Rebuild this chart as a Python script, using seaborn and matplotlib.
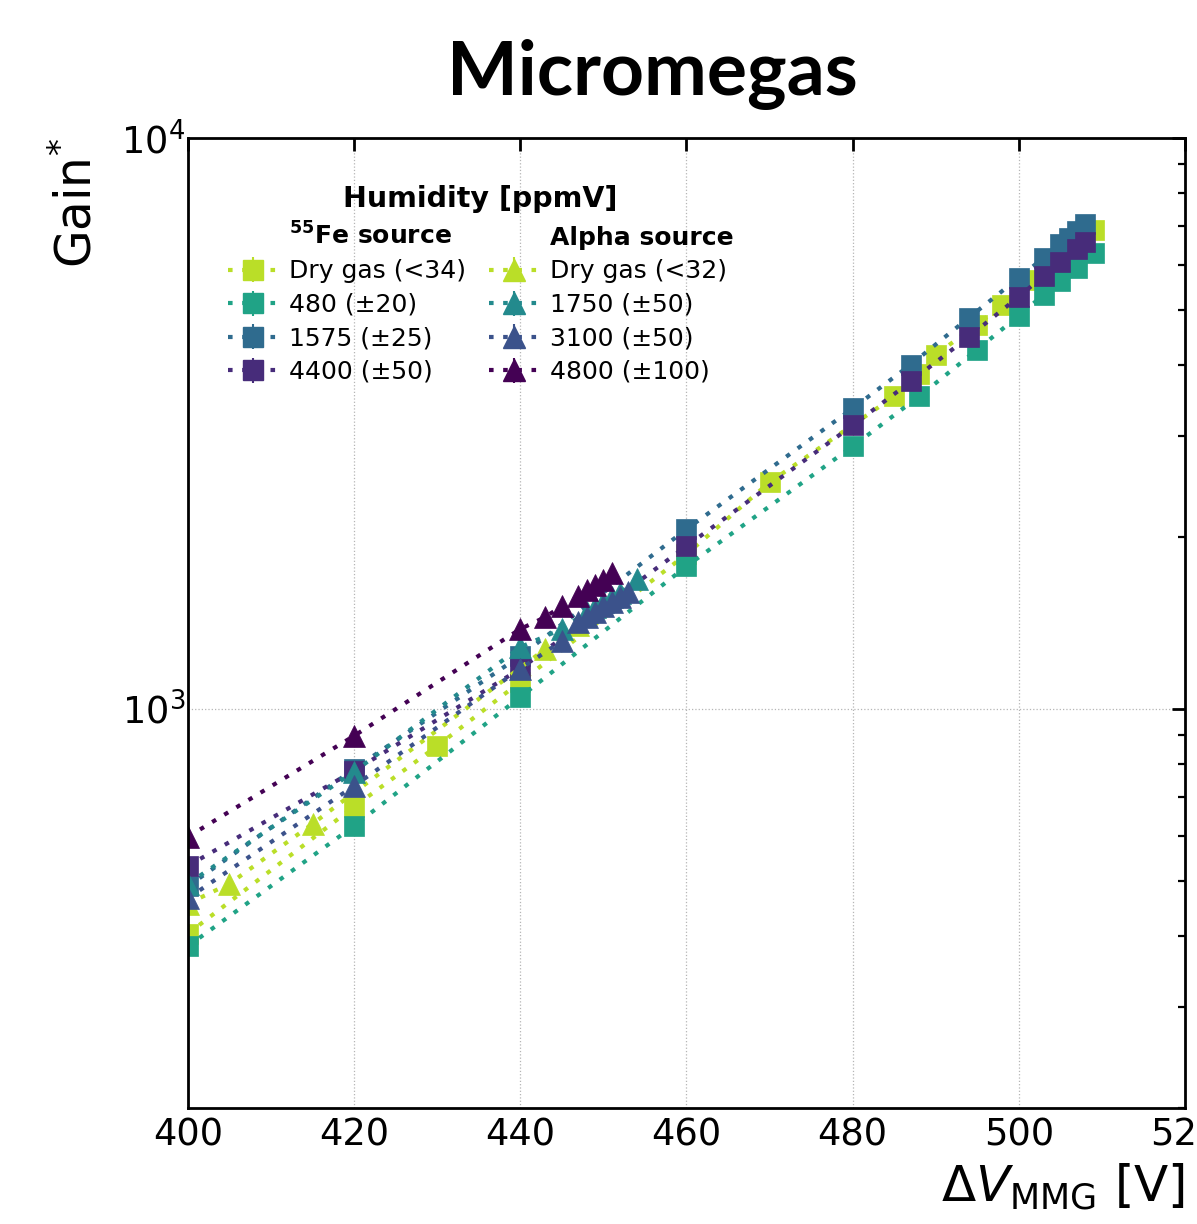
import numpy as np
import pandas as pd
import matplotlib
matplotlib.use("Agg")
import matplotlib.pyplot as plt
from matplotlib.lines import Line2D
from matplotlib.ticker import FixedLocator, LogLocator, NullFormatter
import seaborn as sns

# ---- data: mesh voltage [V] vs. effective gain --------------------------
# 55Fe source
fe_dry_v = [400, 420, 430, 440, 460, 470, 485, 488, 490, 495, 498, 501, 509]
fe_dry_g = [404, 674, 861, 1115, 1866, 2494, 3526, 3852, 4174, 4711, 5106, 5646, 6906]
fe_480_v = [400, 420, 440, 460, 480, 488, 495, 500, 503, 505, 507, 509]
fe_480_g = [384, 624, 1049, 1778, 2883, 3526, 4260, 4885, 5315, 5623, 5925, 6295]
fe_1575_v = [400, 420, 440, 460, 480, 487, 494, 500, 503, 505, 506, 507, 508]
fe_1575_g = [489, 785, 1238, 2064, 3359, 4010, 4845, 5691, 6170, 6526, 6689, 6878, 7075]
fe_4400_v = [400, 420, 440, 460, 480, 487, 494, 500, 503, 505, 507, 508]
fe_4400_g = [531, 779, 1175, 1928, 3137, 3745, 4488, 5272, 5738, 6071, 6396, 6580]

# Alpha source
al_dry_v = [400, 405, 415, 443, 447]
al_dry_g = [456, 494, 629, 1273, 1400]
al_1750_v = [400, 420, 440, 445, 448, 449, 450, 451, 452, 454]
al_1750_g = [494, 776, 1283, 1380, 1478, 1508, 1539, 1570, 1595, 1688]
al_3100_v = [400, 420, 440, 445, 447, 448, 449, 450, 451, 452, 453]
al_3100_g = [466, 733, 1175, 1315, 1419, 1448, 1478, 1514, 1539, 1570, 1602]
al_4800_v = [400, 420, 440, 443, 445, 447, 448, 449, 450, 451]
al_4800_g = [597, 897, 1380, 1448, 1514, 1576, 1614, 1647, 1681, 1729]

fe_labels = ["Dry gas (<34)", "480 (\u00b120)", "1575 (\u00b125)", "4400 (\u00b150)"]
al_labels = ["Dry gas (<32)", "1750 (\u00b150)", "3100 (\u00b150)", "4800 (\u00b1100)"]

fe_colors = ["#bade28", "#20a386", "#2f6b8e", "#472c7a"]
al_colors = ["#bade28", "#238a8d", "#3b528b", "#440154"]

x_ticks = [400, 420, 440, 460, 480, 500, 520]

# ---- style --------------------------------------------------------------
sns.set_theme(style="white")
plt.rcParams.update({
    "font.family": ["DejaVu Sans"],
    "mathtext.fontset": "dejavusans",
    "axes.linewidth": 2.0,
    "axes.edgecolor": "black",
    "axes.labelcolor": "black",
    "text.color": "black",
    "xtick.color": "black",
    "ytick.color": "black",
})

DOTS = (0, (1.1, 2.3))
LW = 3.0
SQ_MS = 14.5
TR_MS = 15.5

fig = plt.figure(figsize=(11.97, 12.24), dpi=100)
ax = fig.add_axes([0.157, 0.0948, 0.833, 0.7925])

fe_series = [(fe_dry_v, fe_dry_g), (fe_480_v, fe_480_g),
             (fe_1575_v, fe_1575_g), (fe_4400_v, fe_4400_g)]
al_series = [(al_dry_v, al_dry_g), (al_1750_v, al_1750_g),
             (al_3100_v, al_3100_g), (al_4800_v, al_4800_g)]

def draw(series, colors, marker, ms):
    for (xv, yv), c in zip(series, colors):
        df = pd.DataFrame({"dv": xv, "gain": yv})
        sns.lineplot(data=df, x="dv", y="gain", ax=ax, color=c, marker=marker,
                     markersize=ms, markeredgecolor=c, markeredgewidth=0.5,
                     linestyle=DOTS, linewidth=LW, errorbar=None, legend=False,
                     sort=True)

draw(fe_series, fe_colors, "s", SQ_MS)
draw(al_series, al_colors, "^", TR_MS)

ax.set_yscale("log")
ax.set_xlim(400, 520)
ax.set_ylim(200, 10000)

ax.xaxis.set_major_locator(FixedLocator(x_ticks))
ax.yaxis.set_major_locator(LogLocator(base=10))
ax.yaxis.set_minor_locator(LogLocator(base=10, subs=np.arange(2, 10)))
ax.yaxis.set_minor_formatter(NullFormatter())

ax.tick_params(which="both", direction="in", top=True, right=True)
ax.tick_params(which="major", length=9.5, width=2.0, labelsize=26.5)
ax.tick_params(which="minor", length=5, width=1.6)
ax.tick_params(axis="x", which="major", pad=6)
ax.tick_params(axis="y", which="major", pad=2)

ax.grid(True, which="major", linestyle=":", color="#b5b5b5", linewidth=0.9)
ax.grid(False, which="minor")

ax.set_xlabel(r"$\Delta V_{\mathrm{MMG}}$ [V]", fontsize=36, loc="right", labelpad=6)
ax.set_ylabel(r"Gain$^{*}$", fontsize=35, loc="top", labelpad=14)

fig.text(652 / 1197, 1 - 74 / 1224, "Micromegas", ha="center", va="center",
         fontsize=54, fontweight="bold", family=["Lato", "DejaVu Sans"])

# ---- legend ---------------------------------------------------------------
def handle(color, marker, ms):
    return ax.errorbar([np.nan], [np.nan], yerr=[np.nan], color=color, marker=marker,
                       markersize=ms, markeredgecolor=color, linestyle=DOTS,
                       linewidth=LW, elinewidth=1.5, capsize=0)

blank = Line2D([], [], linestyle="none", marker=None, alpha=0)
handles = ([blank] + [handle(c, "s", SQ_MS) for c in fe_colors]
           + [blank] + [handle(c, "^", TR_MS) for c in al_colors])
labels = ([r"$^{\mathbf{55}}$Fe source"] + fe_labels + ["Alpha source"] + al_labels)

leg = ax.legend(handles, labels, ncol=2, loc="upper left",
                bbox_to_anchor=(0.02, 0.972), frameon=False, fontsize=18,
                title="Humidity [ppmV]",
                title_fontproperties={"weight": "bold", "size": 20.5},
                handlelength=2.0, handletextpad=0.45, labelspacing=0.38,
                columnspacing=0.9, borderpad=0.3)
texts = leg.get_texts()
texts[0].set_fontweight("bold")
texts[5].set_fontweight("bold")

fig.savefig("out.png", dpi=100)
